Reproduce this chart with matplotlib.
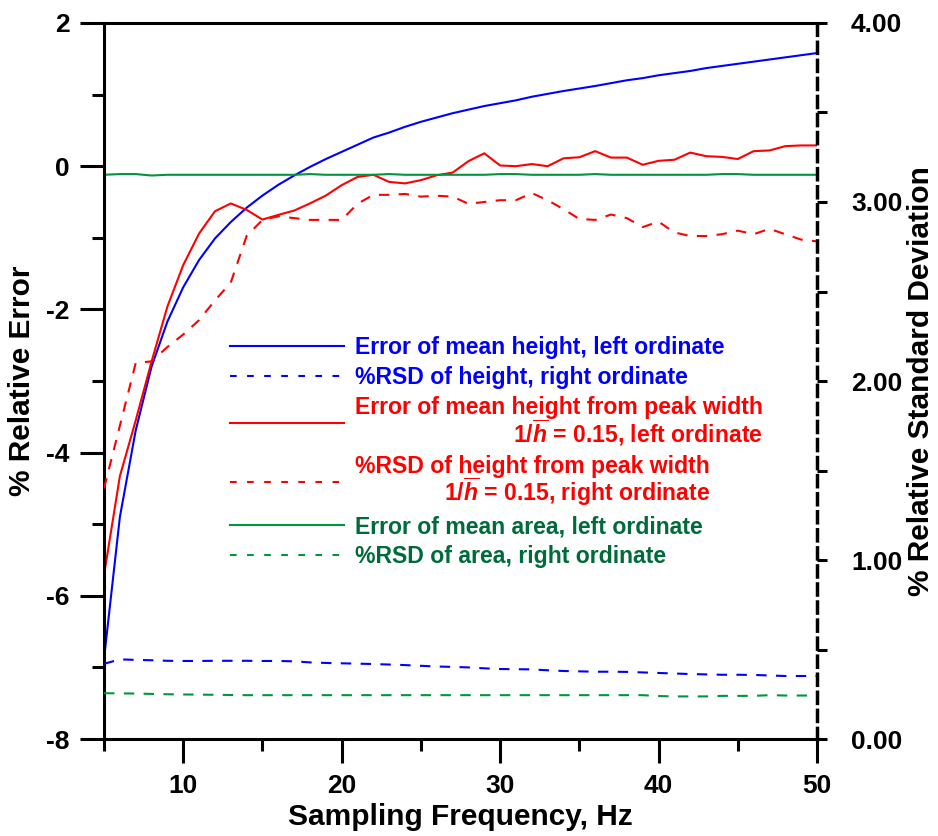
import numpy as np
import matplotlib
matplotlib.use('Agg')
import matplotlib.pyplot as plt
from matplotlib.lines import Line2D
from matplotlib.ticker import MultipleLocator, FormatStrFormatter

plt.rcParams['font.family'] = ['Liberation Sans', 'DejaVu Sans']
plt.rcParams['font.weight'] = 'bold'
plt.rcParams['axes.unicode_minus'] = False
plt.rcParams['mathtext.fontset'] = 'custom'
plt.rcParams['mathtext.it'] = 'Liberation Sans:bold:italic'
plt.rcParams['mathtext.rm'] = 'Liberation Sans:bold'
plt.rcParams['mathtext.bf'] = 'Liberation Sans:bold'

# sampling frequency, Hz
freq = list(range(5, 51))

# % error of mean height (left axis)
height_err = [-6.88, -4.90, -3.69, -2.80, -2.17, -1.69, -1.31, -1.01, -0.78, -0.58,
              -0.41, -0.26, -0.13, -0.01, 0.10, 0.20, 0.30, 0.40, 0.47, 0.55,
              0.62, 0.68, 0.74, 0.79, 0.84, 0.88, 0.92, 0.97, 1.01, 1.05,
              1.085, 1.12, 1.16, 1.20, 1.23, 1.27, 1.30, 1.33, 1.37, 1.40,
              1.43, 1.46, 1.49, 1.52, 1.55, 1.58]
# %RSD of height (right axis)
height_rsd = [0.42, 0.445, 0.442, 0.44, 0.437, 0.436, 0.436, 0.437, 0.437, 0.437,
              0.436, 0.436, 0.434, 0.428, 0.425, 0.423, 0.421, 0.419, 0.416, 0.413,
              0.409, 0.405, 0.403, 0.400, 0.395, 0.391, 0.390, 0.389, 0.384, 0.380,
              0.378, 0.376, 0.376, 0.375, 0.372, 0.369, 0.366, 0.363, 0.361, 0.359,
              0.359, 0.358, 0.355, 0.352, 0.352, 0.352]
# % error of mean height from peak width (left axis)
width_err = [-5.71, -4.33, -3.55, -2.73, -1.96, -1.38, -0.94, -0.63, -0.52, -0.61,
             -0.745, -0.68, -0.62, -0.52, -0.41, -0.265, -0.15, -0.12, -0.22, -0.24,
             -0.195, -0.126, -0.09, 0.07, 0.18, 0.01, 0.0, 0.03, 0.0, 0.11,
             0.125, 0.21, 0.12, 0.12, 0.02, 0.075, 0.09, 0.19, 0.14, 0.13,
             0.10, 0.21, 0.22, 0.28, 0.29, 0.29]
# %RSD of height from peak width (right axis)
width_rsd = [1.40, 1.75, 2.10, 2.11, 2.19, 2.26, 2.34, 2.45, 2.55, 2.81,
             2.90, 2.92, 2.91, 2.90, 2.90, 2.90, 2.99, 3.04, 3.04, 3.045,
             3.03, 3.035, 3.03, 2.99, 3.00, 3.01, 3.01, 3.05, 3.01, 2.96,
             2.905, 2.90, 2.93, 2.91, 2.86, 2.89, 2.83, 2.81, 2.81, 2.82,
             2.84, 2.82, 2.85, 2.82, 2.79, 2.78]
# % error of mean area (left axis)
area_err = [-0.12, -0.11, -0.11, -0.13, -0.12, -0.12, -0.12, -0.12, -0.12, -0.12,
            -0.12, -0.12, -0.12, -0.11, -0.12, -0.12, -0.12, -0.12, -0.11, -0.12,
            -0.12, -0.12, -0.12, -0.12, -0.12, -0.11, -0.11, -0.12, -0.12, -0.12,
            -0.12, -0.11, -0.12, -0.12, -0.12, -0.12, -0.12, -0.12, -0.12, -0.11,
            -0.11, -0.12, -0.12, -0.12, -0.12, -0.12]
# %RSD of area (right axis)
area_rsd = [0.256, 0.255, 0.254, 0.252, 0.250, 0.249, 0.248, 0.247, 0.246, 0.245,
            0.245, 0.245, 0.245, 0.245, 0.245, 0.245, 0.245, 0.245, 0.245, 0.245,
            0.245, 0.245, 0.245, 0.245, 0.245, 0.245, 0.245, 0.245, 0.245, 0.245,
            0.245, 0.245, 0.245, 0.245, 0.245, 0.240, 0.238, 0.238, 0.238, 0.241,
            0.241, 0.241, 0.245, 0.243, 0.243, 0.243]

BLUE = '#0000ff'
RED = '#ff0000'
GREEN = '#00963c'
GREEN_TXT = '#006b3a'
LW = 1.5
DASH = (0, (5, 4.5))

fig = plt.figure(figsize=(9.38, 8.36), dpi=100)
ax = fig.add_axes([0.1109, 0.1160, 0.7601, 0.8565])
ax2 = ax.twinx()

ax.plot(freq, height_err, color=BLUE, lw=LW)
ax.plot(freq, width_err, color=RED, lw=LW)
ax.plot(freq, area_err, color=GREEN, lw=LW)
ax2.plot(freq, height_rsd, color=BLUE, lw=LW, linestyle=DASH)
ax2.plot(freq, width_rsd, color=RED, lw=LW, linestyle=DASH)
ax2.plot(freq, area_rsd, color=GREEN, lw=LW, linestyle=DASH)

ax.set_xlim(5, 50)
ax.set_ylim(-8, 2)
ax2.set_ylim(0, 4)

ax.xaxis.set_major_locator(MultipleLocator(10))
ax.xaxis.set_minor_locator(MultipleLocator(5))
ax.yaxis.set_major_locator(MultipleLocator(2))
ax.yaxis.set_minor_locator(MultipleLocator(1))
ax2.yaxis.set_major_locator(MultipleLocator(1))
ax2.yaxis.set_minor_locator(MultipleLocator(0.5))
ax2.yaxis.set_major_formatter(FormatStrFormatter('%.2f'))

SPW = 2.2
for side in ['left', 'bottom', 'top']:
    ax.spines[side].set_linewidth(SPW)
ax.spines['right'].set_visible(False)
for side in ['left', 'bottom', 'top']:
    ax2.spines[side].set_visible(False)
ax2.spines['right'].set_linewidth(2.5)
ax2.spines['right'].set_linestyle((0, (3.2, 2.0)))

ax.tick_params(axis='both', which='major', direction='out', length=17, width=SPW,
               labelsize=19, pad=8)
ax.tick_params(axis='both', which='minor', direction='out', length=8.5, width=SPW)
ax2.tick_params(axis='y', which='both', direction='out', length=7, width=SPW,
                labelsize=19, pad=17.5)

ax.set_xlabel('Sampling Frequency, Hz', fontsize=21.5, fontweight='bold', labelpad=4)
ax.set_ylabel('% Relative Error', fontsize=21.5, fontweight='bold', labelpad=7)
ax2.set_ylabel('% Relative Standard Deviation', fontsize=21.5, fontweight='bold',
               labelpad=3)

# legend with shorter dashes than the data lines
leg_dash = (0, (3.2, 5))
handles = [
    Line2D([], [], color=BLUE, lw=LW),
    Line2D([], [], color=BLUE, lw=LW, linestyle=leg_dash),
    Line2D([], [], color=RED, lw=LW),
    Line2D([], [], color=RED, lw=LW, linestyle=leg_dash),
    Line2D([], [], color=GREEN, lw=LW),
    Line2D([], [], color=GREEN, lw=LW, linestyle=leg_dash),
]
labels = [
    'Error of mean height, left ordinate',
    '%RSD of height, right ordinate',
    'Error of mean height from peak width\n1/$\\overline{h}$ = 0.15, left ordinate',
    '%RSD of height from peak width\n1/$\\overline{h}$ = 0.15, right ordinate',
    'Error of mean area, left ordinate',
    '%RSD of area, right ordinate',
]
text_colors = [BLUE, BLUE, RED, RED, GREEN_TXT, GREEN_TXT]

leg = ax2.legend(handles, labels, loc='upper left', bbox_to_anchor=(0.1767, 0.5625),
                 frameon=False, handlelength=4.95, handletextpad=0.48,
                 labelspacing=0.3, borderpad=0, borderaxespad=0,
                 prop={'weight': 'bold', 'size': 16.6})
for t, c in zip(leg.get_texts(), text_colors):
    t.set_color(c)
    t.set_multialignment('right')
    t.set_linespacing(0.92)

fig.savefig('out.png', dpi=100)
